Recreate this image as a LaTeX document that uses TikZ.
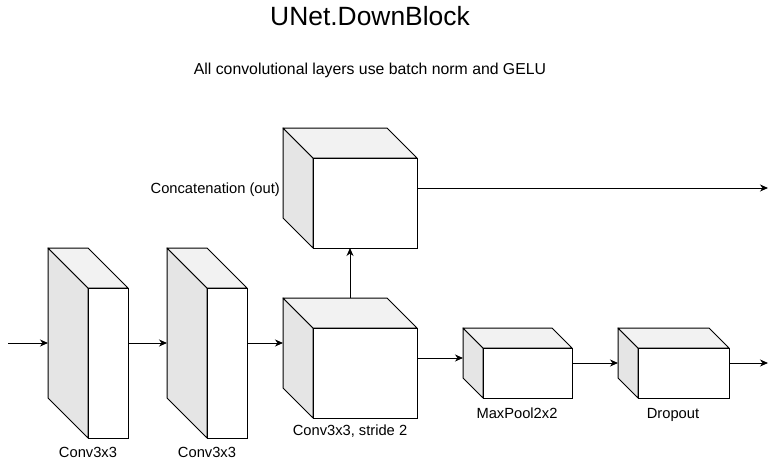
\documentclass[tikz,border=0pt]{standalone}
\usepackage{fontspec}
\setmainfont{Liberation Sans}
\usetikzlibrary{arrows.meta}

\tikzset{
  front/.style={draw=black, fill=white, line width=1pt, inner sep=0pt},
  leftface/.style={draw=black, fill=black!10, line width=1pt, line join=round},
  topface/.style={draw=black, fill=black!5, line width=1pt, line join=round},
  conn/.style={-{Stealth[length=8pt,width=7pt,inset=2.5pt]}, line width=1pt},
  lbl/.style={anchor=base, inner sep=0pt, font=\fontsize{14.7}{17}\selectfont}
}

% cube: name, front left x, front top y, width, height, depth
\newcommand{\cube}[6]{%
  \filldraw[leftface] (#2-#6,#3-#6) -- (#2-#6,#3+#5-#6) -- (#2,#3+#5) -- (#2,#3) -- cycle;
  \filldraw[topface] (#2-#6,#3-#6) -- (#2+#4-#6,#3-#6) -- (#2+#4,#3) -- (#2,#3) -- cycle;
  \node[front, minimum width=#4pt, minimum height=#5pt] (#1) at (#2+#4/2,#3+#5/2) {};
  \coordinate (#1-w) at (#2-#6,#3+#5/2-#6/2);
  \coordinate (#1-e) at (#2+#4,#3+#5/2-#6/2);
  \coordinate (#1-n) at (#2+#4/2-#6/2,#3-#6);
  \coordinate (#1-s) at (#2+#4/2-#6/2,#3+#5);
}

\begin{document}
\begin{tikzpicture}[x=1pt, y=-1pt]
\useasboundingbox (0,0) rectangle (776,463);

\node[anchor=base, inner sep=0pt, font=\fontsize{26.4}{30}\selectfont] (title) at (370,25) {UNet.DownBlock};
\node[anchor=base, inner sep=0pt, font=\fontsize{15.8}{19}\selectfont] (note) at (370,74) {All convolutional layers use batch norm and GELU};

\cube{c1}{88}{288}{40}{150}{40}
\cube{c2}{207}{288}{40}{150}{40}
\cube{c3}{313}{328}{104}{90}{30}
\cube{cat}{313}{158}{104}{90}{30}
\cube{pool}{483}{348}{89}{50}{20}
\cube{drop}{638}{348}{91}{50}{20}

\node[lbl] (l1) at (88,457) {Conv3x3};
\node[lbl] (l2) at (207,457) {Conv3x3};
\node[lbl] (l3) at (350,435) {Conv3x3, stride 2};
\node[lbl, anchor=base east] (l4) at (280,193) {Concatenation (out)};
\node[lbl] (l5) at (517,418) {MaxPool2x2};
\node[lbl] (l6) at (673,418) {Dropout};

\coordinate (in) at (8,343);
\coordinate (out1) at (768,188);
\coordinate (out2) at (768,363);

\draw [conn] (in)--(c1-w);
\draw [conn] (c1-e)--(c2-w);
\draw [conn] (c2-e)--(c2-e -| c3-w);
\draw [conn] (c3-n)--(cat-s);
\draw [conn] (cat-e)--(out1);
\draw [conn] (c3-e)--(c3-e -| pool-w);
\draw [conn] (pool-e)--(drop-w);
\draw [conn] (drop-e)--(out2);
\end{tikzpicture}
\end{document}
